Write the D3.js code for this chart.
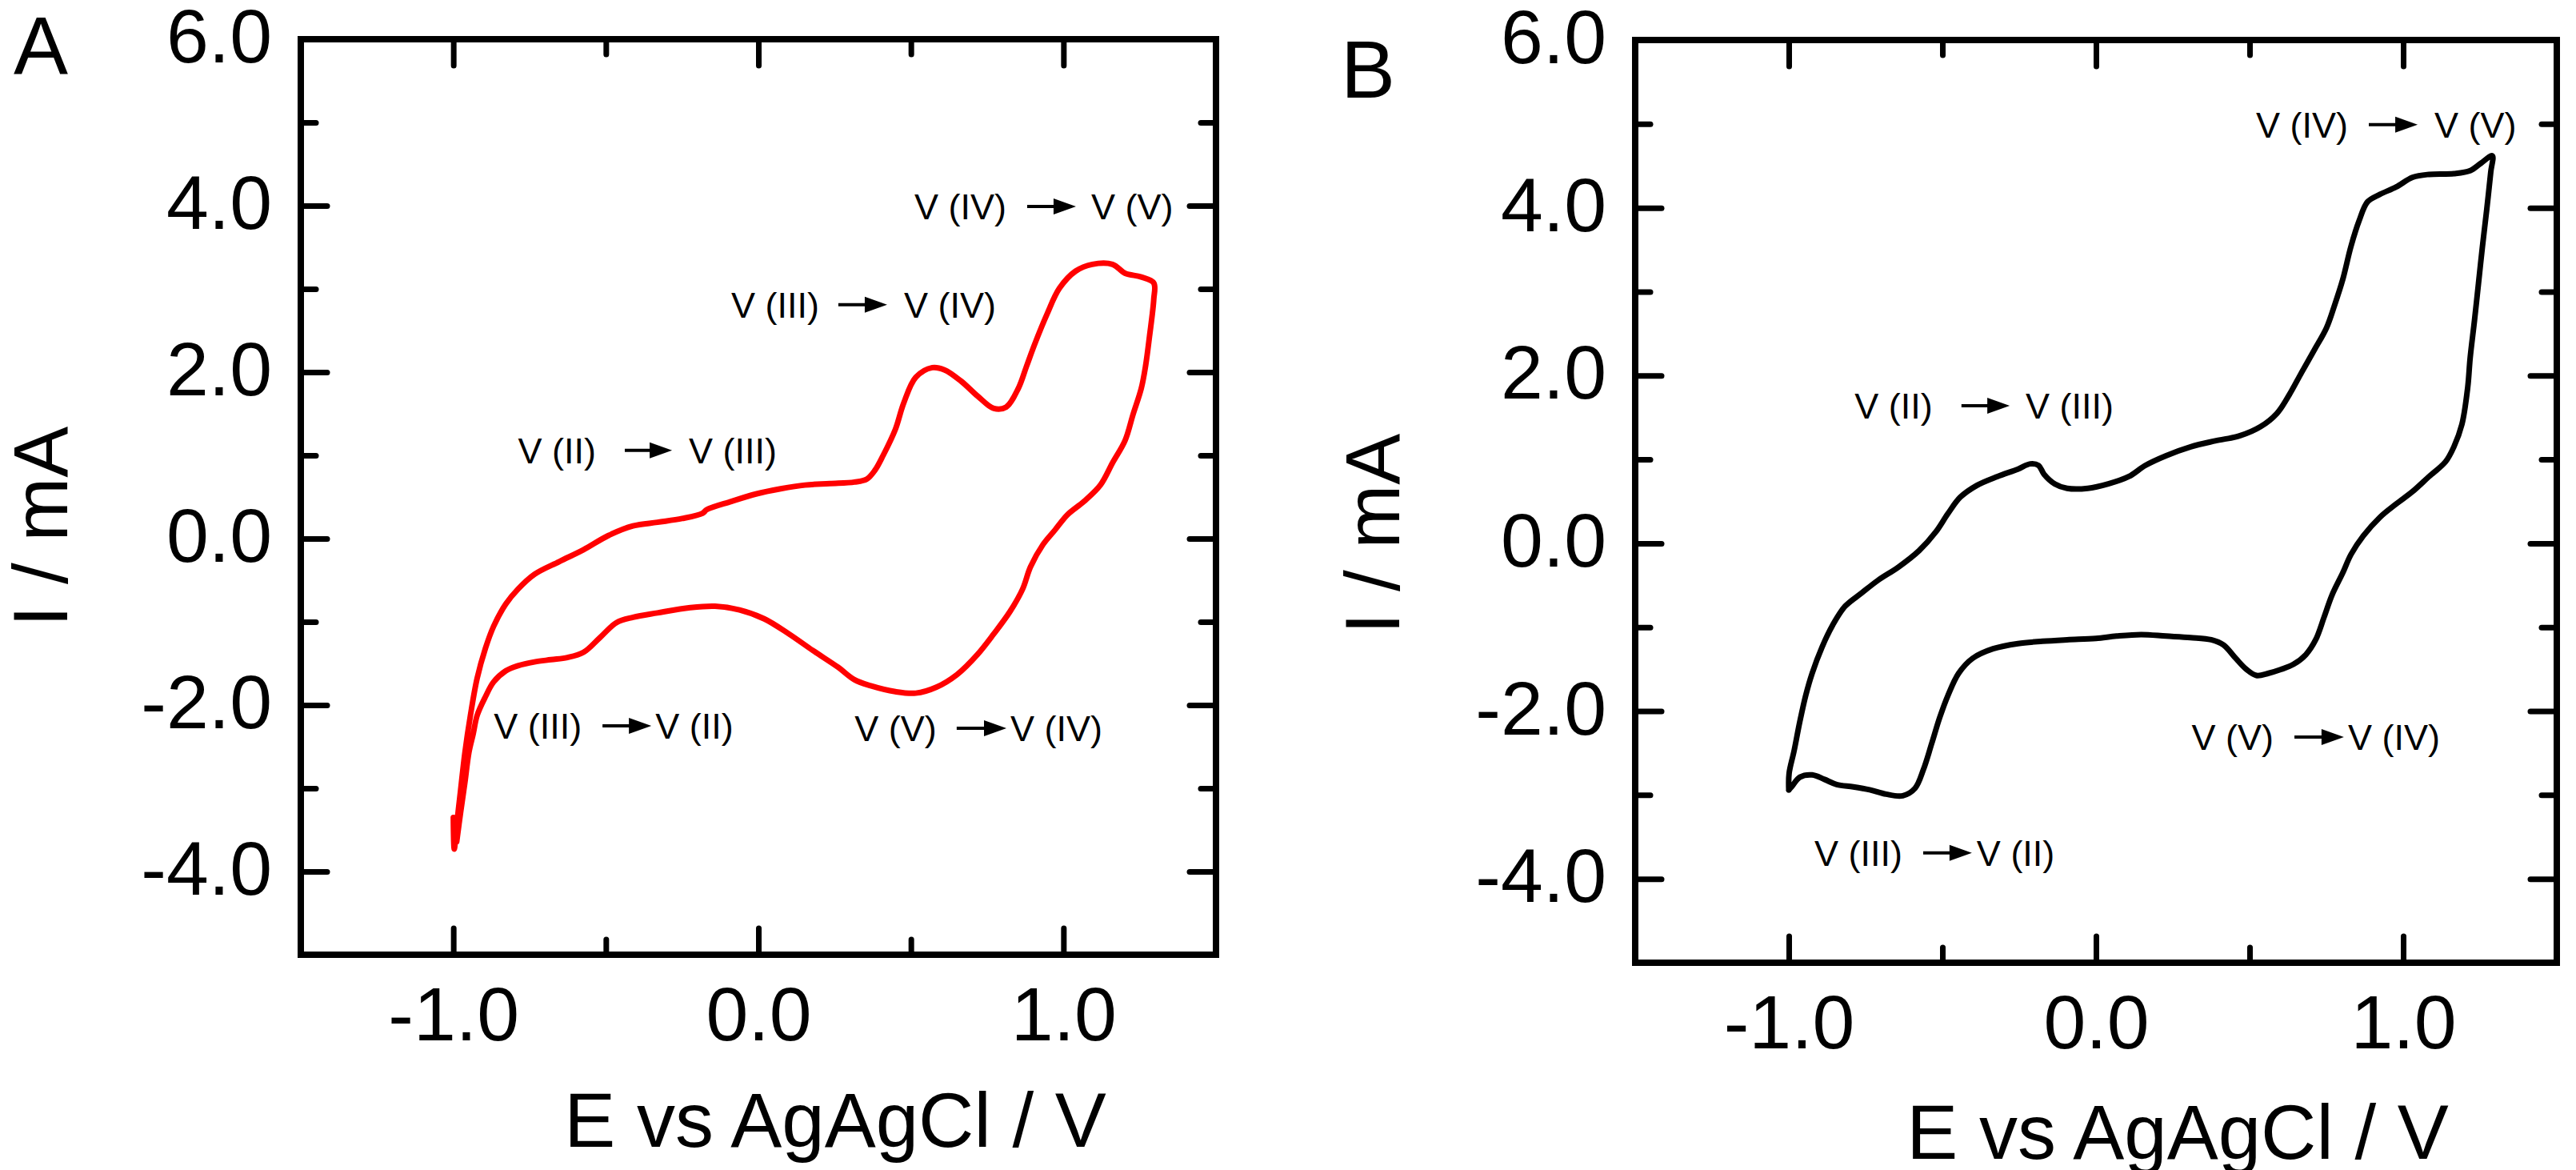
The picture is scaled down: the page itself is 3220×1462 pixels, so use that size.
<!DOCTYPE html>
<html>
<head>
<meta charset="utf-8">
<script src="https://cdn.jsdelivr.net/npm/d3@7"></script>
<style>
  html, body { margin: 0; padding: 0; background: #fff; }
  svg { display: block; }
  text { font-family: "Liberation Sans", Arial, sans-serif; fill: #000; }
</style>
</head>
<body>
<svg id="chart" width="3220" height="1462"></svg>
<script>
// ---------------- DATA ----------------
const xMajorTicks = [-1.0, 0.0, 1.0];
const xMinorTicks = [-0.5, 0.5];
const yMajorTicks = [-4.0, -2.0, 0.0, 2.0, 4.0, 6.0];
const yMinorTicks = [-3.0, -1.0, 1.0, 3.0, 5.0];
const xDomain = [-1.5, 1.5];
const yDomain = [-5.0, 6.0];
const xTitle = "E vs AgAgCl / V";
const yTitle = "I / mA";
const panelLabels = ["A", "B"];

// Panel A (red) cyclic voltammogram: potential E (V) and current I (mA)
const cvA_E = [-1.0, -0.997, -0.987, -0.976, -0.962, -0.944, -0.922, -0.895, -0.868, -0.828, -0.788, -0.734, -0.653, -0.573, -0.492, -0.411, -0.331, -0.250, -0.183, -0.169, -0.089, -0.008, 0.073, 0.153, 0.234, 0.315, 0.355, 0.382, 0.409, 0.449, 0.476, 0.516, 0.570, 0.610, 0.664, 0.718, 0.772, 0.812, 0.852, 0.879, 0.906, 0.946, 0.987, 1.040, 1.094, 1.161, 1.202, 1.255, 1.296, 1.296,
  1.282, 1.269, 1.255, 1.228, 1.202, 1.161, 1.121, 1.067, 1.013, 0.973, 0.933, 0.892, 0.866, 0.825, 0.772, 0.718, 0.651, 0.583, 0.516, 0.449, 0.368, 0.315, 0.261, 0.180, 0.099, 0.019, -0.062, -0.142, -0.223, -0.331, -0.411, -0.465, -0.519, -0.573, -0.626, -0.680, -0.734, -0.788, -0.828, -0.868, -0.895, -0.922, -0.935, -0.949, -0.962, -0.976, -0.989];
const cvA_I = [-3.35, -3.73, -3.375, -3.018, -2.571, -2.125, -1.679, -1.321, -1.054, -0.786, -0.607, -0.429, -0.277, -0.134, 0.036, 0.152, 0.196, 0.241, 0.304, 0.348, 0.446, 0.536, 0.598, 0.643, 0.661, 0.679, 0.714, 0.821, 1.0, 1.313, 1.625, 1.938, 2.054, 2.027, 1.893, 1.714, 1.563, 1.580, 1.804, 2.071, 2.339, 2.696, 3.009, 3.214, 3.295, 3.295, 3.188, 3.143, 3.071, 2.875,
  2.429, 2.071, 1.804, 1.491, 1.179, 0.911, 0.643, 0.446, 0.286, 0.107, -0.071, -0.339, -0.607, -0.875, -1.143, -1.393, -1.634, -1.786, -1.857, -1.839, -1.768, -1.696, -1.545, -1.348, -1.143, -0.964, -0.857, -0.813, -0.830, -0.893, -0.946, -1.009, -1.188, -1.366, -1.429, -1.455, -1.482, -1.527, -1.589, -1.723, -1.902, -2.125, -2.348, -2.571, -2.929, -3.286, -3.643];

// Panel B (black) cyclic voltammogram
const cvB_E = [-1.0, -0.999, -0.983, -0.964, -0.945, -0.924, -0.892, -0.857, -0.817, -0.763, -0.710, -0.643, -0.576, -0.522, -0.482, -0.442, -0.388, -0.321, -0.254, -0.214, -0.187, -0.169, -0.134, -0.094, -0.027, 0.040, 0.107, 0.161, 0.228, 0.308, 0.388, 0.469, 0.535, 0.589, 0.629, 0.669, 0.710, 0.750, 0.776, 0.803, 0.830, 0.857, 0.884, 0.924, 0.977, 1.031, 1.084, 1.165, 1.218, 1.253, 1.290,
  1.285, 1.272, 1.258, 1.245, 1.232, 1.218, 1.210, 1.191, 1.165, 1.138, 1.084, 1.031, 0.977, 0.924, 0.870, 0.830, 0.803, 0.768, 0.742, 0.715, 0.683, 0.643, 0.602, 0.562, 0.522, 0.490, 0.455, 0.415, 0.375, 0.308, 0.228, 0.147, 0.067, 0.0, -0.094, -0.174, -0.254, -0.335, -0.402, -0.447, -0.482, -0.509, -0.535, -0.562, -0.589, -0.629, -0.683, -0.737, -0.790, -0.844, -0.884, -0.924, -0.964, -0.991, -1.0];
const cvB_I = [-2.94, -2.743, -2.478, -2.124, -1.814, -1.549, -1.239, -0.973, -0.752, -0.593, -0.442, -0.283, -0.088, 0.133, 0.354, 0.549, 0.690, 0.796, 0.885, 0.947, 0.929, 0.823, 0.708, 0.655, 0.655, 0.708, 0.796, 0.929, 1.044, 1.150, 1.221, 1.283, 1.389, 1.549, 1.770, 2.035, 2.301, 2.566, 2.832, 3.142, 3.540, 3.850, 4.071, 4.159, 4.248, 4.363, 4.398, 4.407, 4.442, 4.531, 4.619,
  4.425, 3.982, 3.540, 3.097, 2.655, 2.212, 1.858, 1.416, 1.150, 0.973, 0.796, 0.619, 0.469, 0.310, 0.088, -0.133, -0.354, -0.619, -0.885, -1.150, -1.327, -1.442, -1.504, -1.549, -1.575, -1.504, -1.372, -1.212, -1.150, -1.124, -1.106, -1.088, -1.106, -1.133, -1.150, -1.168, -1.195, -1.257, -1.372, -1.549, -1.814, -2.080, -2.389, -2.699, -2.920, -3.009, -2.991, -2.938, -2.903, -2.876, -2.814, -2.761, -2.788, -2.903, -2.94];

// Annotations: from-label, to-label, arrow start E, arrow end E, arrow I
const annA_from = ["V (IV)", "V (III)", "V (II)", "V (III)", "V (V)"];
const annA_to   = ["V (V)", "V (IV)", "V (III)", "V (II)", "V (IV)"];
const annA_E0   = [0.881, 0.262, -0.438, -0.511, 0.650];
const annA_E1   = [1.041, 0.422, -0.283, -0.351, 0.813];
const annA_I    = [3.99, 2.81, 1.06, -2.25, -2.28];

const annB_from = ["V (IV)", "V (II)", "V (V)", "V (III)"];
const annB_to   = ["V (V)", "V (III)", "V (IV)", "V (II)"];
const annB_E0   = [0.888, -0.438, 0.646, -0.5625];
const annB_E1   = [1.047, -0.281, 0.807, -0.404];
const annB_I    = [4.99, 1.64, -2.31, -3.69];

// ---------------- LAYOUT ----------------
const svg = d3.select("#chart");

const panels = [
  { label: panelLabels[0], color: "#ff0000", E: cvA_E, I: cvA_I,
    ann: { from: annA_from, to: annA_to, E0: annA_E0, E1: annA_E1, I: annA_I,
           gapL: [26, 24, 36, 26, 25], gapR: [19, 21, 21, 5, 5] },
    box: { left: 376, right: 1520, top: 49, bottom: 1193 },
    labelPos: [17, 93], yTitlePos: [84, 658], xTitlePos: [1044, 1433] },
  { label: panelLabels[1], color: "#000000", E: cvB_E, I: cvB_I,
    ann: { from: annB_from, to: annB_to, E0: annB_E0, E1: annB_E1, I: annB_I,
           gapL: [26, 36, 26, 26], gapR: [21, 20, 5, 6] },
    box: { left: 2044, right: 3196, top: 50, bottom: 1203 },
    labelPos: [1676, 122], yTitlePos: [1749, 667], xTitlePos: [2722, 1448] }
];

const tickFont = 95;
const titleFont = 96;
const annFont = 45;
const fmt = d => d.toFixed(1); // plain hyphen-minus as in the original

panels.forEach(p => {
  const b = p.box;
  const x = d3.scaleLinear().domain(xDomain).range([b.left, b.right]);
  const y = d3.scaleLinear().domain(yDomain).range([b.bottom, b.top]);
  const g = svg.append("g");

  const styleAxis = (sel) => {
    sel.select(".domain").remove();
    sel.selectAll(".tick line").attr("stroke", "#000").attr("stroke-width", 7).attr("stroke-linecap", "round");
    sel.selectAll(".tick text").attr("font-size", tickFont).attr("font-family", "'Liberation Sans', Arial, sans-serif").attr("fill", "#000");
  };

  // Bottom axis (major with labels + minor)
  g.append("g").attr("transform", `translate(0,${b.bottom})`)
    .call(d3.axisBottom(x).tickValues(xMajorTicks).tickSize(-33).tickPadding(40).tickFormat(fmt))
    .call(styleAxis);
  g.append("g").attr("transform", `translate(0,${b.bottom})`)
    .call(d3.axisBottom(x).tickValues(xMinorTicks).tickSize(-19).tickFormat(""))
    .call(styleAxis);
  // Top axis
  g.append("g").attr("transform", `translate(0,${b.top})`)
    .call(d3.axisTop(x).tickValues(xMajorTicks).tickSize(-33).tickFormat(""))
    .call(styleAxis);
  g.append("g").attr("transform", `translate(0,${b.top})`)
    .call(d3.axisTop(x).tickValues(xMinorTicks).tickSize(-19).tickFormat(""))
    .call(styleAxis);
  // Left axis
  g.append("g").attr("transform", `translate(${b.left},0)`)
    .call(d3.axisLeft(y).tickValues(yMajorTicks).tickSize(-33).tickPadding(36).tickFormat(fmt))
    .call(styleAxis)
    .call(s => s.selectAll(".tick text").attr("dy", "0.30em"));
  g.append("g").attr("transform", `translate(${b.left},0)`)
    .call(d3.axisLeft(y).tickValues(yMinorTicks).tickSize(-19).tickFormat(""))
    .call(styleAxis);
  // Right axis
  g.append("g").attr("transform", `translate(${b.right},0)`)
    .call(d3.axisRight(y).tickValues(yMajorTicks).tickSize(-33).tickFormat(""))
    .call(styleAxis);
  g.append("g").attr("transform", `translate(${b.right},0)`)
    .call(d3.axisRight(y).tickValues(yMinorTicks).tickSize(-19).tickFormat(""))
    .call(styleAxis);

  // Frame
  g.append("rect")
    .attr("x", b.left).attr("y", b.top)
    .attr("width", b.right - b.left).attr("height", b.bottom - b.top)
    .attr("fill", "none").attr("stroke", "#000").attr("stroke-width", 8);

  // Curve
  const pts = p.E.map((e, i) => [e, p.I[i]]);
  const line = d3.line().x(d => x(d[0])).y(d => y(d[1])).curve(d3.curveCatmullRom.alpha(0.5));
  g.append("path").datum(pts)
    .attr("d", line)
    .attr("fill", "none").attr("stroke", p.color)
    .attr("stroke-width", 7).attr("stroke-linejoin", "round").attr("stroke-linecap", "round");

  // Annotations
  const a = p.ann;
  a.from.forEach((f, i) => {
    const x0 = x(a.E0[i]), x1 = x(a.E1[i]), yy = y(a.I[i]);
    const ag = g.append("g");
    ag.append("line").attr("x1", x0).attr("x2", x1 - 20).attr("y1", yy).attr("y2", yy)
      .attr("stroke", "#000").attr("stroke-width", 4);
    ag.append("path").attr("d", `M${x1},${yy} L${x1 - 28},${yy - 10} L${x1 - 28},${yy + 10} Z`).attr("fill", "#000");
    ag.append("text").attr("x", x0 - a.gapL[i]).attr("y", yy + 16)
      .attr("text-anchor", "end").attr("font-size", annFont).text(f);
    ag.append("text").attr("x", x1 + a.gapR[i]).attr("y", yy + 16)
      .attr("text-anchor", "start").attr("font-size", annFont).text(a.to[i]);
  });

  // Titles
  g.append("text").attr("x", p.xTitlePos[0]).attr("y", p.xTitlePos[1])
    .attr("text-anchor", "middle").attr("font-size", titleFont).text(xTitle);
  g.append("text").attr("transform", `translate(${p.yTitlePos[0]},${p.yTitlePos[1]}) rotate(-90)`)
    .attr("text-anchor", "middle").attr("font-size", titleFont).text(yTitle);
  g.append("text").attr("x", p.labelPos[0]).attr("y", p.labelPos[1])
    .attr("font-size", 102).text(p.label);
});
</script>
</body>
</html>
